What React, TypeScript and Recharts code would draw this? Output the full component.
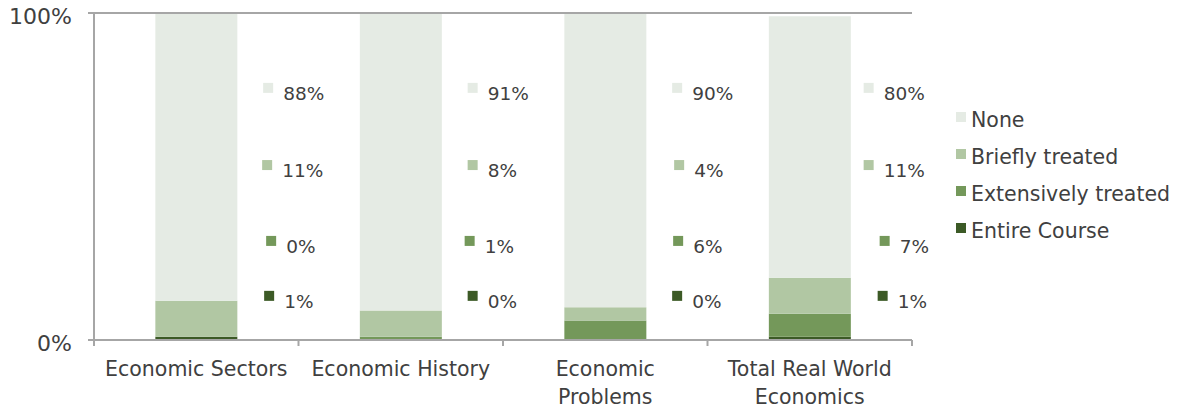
import React from "react";
import { BarChart, Bar, XAxis, YAxis, Legend, ReferenceLine } from "recharts";

const categories = ["Economic Sectors", "Economic History", "Economic Problems", "Total Real World Economics"];
const tickLines = [["Economic Sectors"], ["Economic History"], ["Economic", "Problems"], ["Total Real World", "Economics"]];
const noneValues = [88, 91, 90, 80];
const brieflyValues = [11, 8, 4, 11];
const extensiveValues = [0, 1, 6, 7];
const entireValues = [1, 0, 0, 1];
const yTicks = [0, 100];

const seriesList = [
  { key: "none", name: "None", values: noneValues, color: "#E5EBE4", row: 0.771, nudge: [0, 0, 0, -13] },
  { key: "briefly", name: "Briefly treated", values: brieflyValues, color: "#B1C7A3", row: 0.535, nudge: [-1, 0, 2, -13] },
  { key: "extensive", name: "Extensively treated", values: extensiveValues, color: "#74985A", row: 0.303, nudge: [3, -3, 1, 3] },
  { key: "entire", name: "Entire Course", values: entireValues, color: "#3C5A26", row: 0.135, nudge: [1, 0, 0, 1] },
];

const data = categories.map((c, i) => {
  const row: any = { name: c, idx: i };
  seriesList.forEach((s) => (row[s.key] = s.values[i]));
  return row;
});

const W = 1185;
const H = 411;
const PLOT_LEFT = 94;
const PLOT_TOP = 13;
const PLOT_RIGHT = 912;
const PLOT_BOTTOM = 340;
const PLOT_H = PLOT_BOTTOM - PLOT_TOP;
const BAND = (PLOT_RIGHT - PLOT_LEFT) / categories.length;
const BAR_W = BAND * 0.4;
const FONT = "'DejaVu Sans', sans-serif";
const TEXT = "#404040";
const AXIS = "#A6A6A6";

const XTick = (props: any) => {
  const { x, y, payload, index } = props;
  const i = payload.index ?? index;
  const lines = tickLines[i] || [payload.value];
  const left = x - BAND / 2;
  return (
    <g>
      <line x1={left} y1={y} x2={left} y2={y + 6} stroke={AXIS} strokeWidth={2} />
      {i === categories.length - 1 && (
        <line x1={x + BAND / 2} y1={y} x2={x + BAND / 2} y2={y + 6} stroke={AXIS} strokeWidth={2} />
      )}
      {lines.map((l: string, k: number) => (
        <text
          key={k}
          x={x}
          y={y + 30 + k * 28}
          textAnchor="middle"
          dominantBaseline="middle"
          fontFamily={FONT}
          fontSize={20.5}
          fill={TEXT}
        >
          {l}
        </text>
      ))}
      {seriesList.map((s) => {
        const mx = x + BAR_W / 2 + 26 + s.nudge[i];
        const my = PLOT_BOTTOM - s.row * PLOT_H;
        return (
          <g key={s.key}>
            <rect x={mx} y={my - 5} width={10} height={10} fill={s.color} />
            <text x={mx + 20} y={my + 7} dominantBaseline="middle" fontFamily={FONT} fontSize={18.5} fill={TEXT}>
              {s.values[i]}%
            </text>
          </g>
        );
      })}
    </g>
  );
};

const LegendContent = () => (
  <div style={{ fontFamily: FONT, fontSize: 20.5, color: TEXT }}>
    {seriesList.map((s) => (
      <div key={s.key} style={{ display: "flex", alignItems: "flex-start", height: 37, lineHeight: "37px", whiteSpace: "nowrap" }}>
        <span style={{ display: "inline-block", width: 10, height: 10, background: s.color, marginTop: 10, marginRight: 5 }} />
        <span>{s.name}</span>
      </div>
    ))}
  </div>
);

export default function App() {
  const stackOrder = [...seriesList].reverse();
  return (
    <div style={{ position: "absolute", left: 0, top: 0, width: W, height: H, background: "#fff" }}>
      <BarChart
        width={W}
        height={H}
        data={data}
        margin={{ top: PLOT_TOP, right: W - PLOT_RIGHT, bottom: 0, left: 0 }}
        barCategoryGap="30%"
      >
        <XAxis
          dataKey="name"
          height={H - PLOT_BOTTOM}
          tick={<XTick />}
          tickLine={false}
          tickSize={0}
          tickMargin={0}
          axisLine={{ stroke: AXIS, strokeWidth: 2 }}
          interval={0}
        />
        <YAxis
          width={PLOT_LEFT}
          domain={[0, 100]}
          ticks={yTicks}
          tickFormatter={(v: number) => `${v}%`}
          tickSize={6}
          tickMargin={16}
          tickLine={{ stroke: AXIS, strokeWidth: 2 }}
          axisLine={{ stroke: AXIS, strokeWidth: 2 }}
          tick={{ fontFamily: FONT, fontSize: 22, fill: TEXT, dy: 3 }}
        />
        <ReferenceLine y={100} stroke={AXIS} strokeWidth={2} />
        {stackOrder.map((s) => (
          <Bar key={s.key} dataKey={s.key} name={s.name} stackId="a" fill={s.color} isAnimationActive={false} />
        ))}
        <Legend
          layout="vertical"
          align="center"
          verticalAlign="middle"
          content={<LegendContent />}
          wrapperStyle={{ left: 956, top: 102, width: 225 }}
        />
      </BarChart>
    </div>
  );
}
